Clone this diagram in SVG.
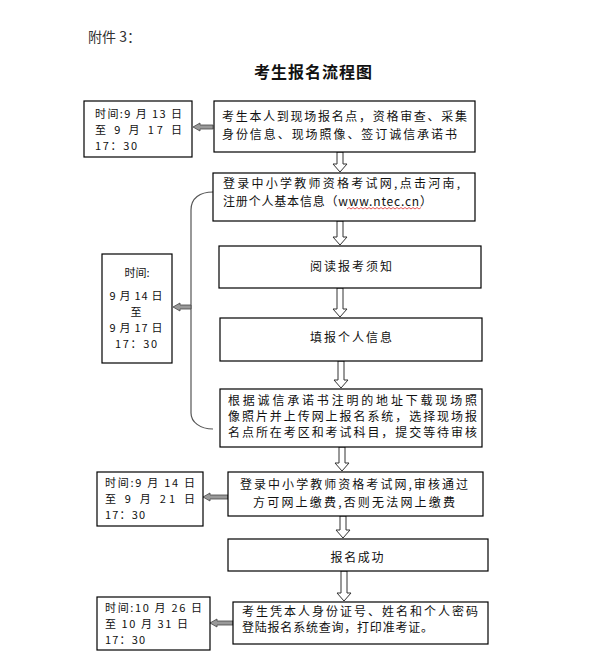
<svg xmlns="http://www.w3.org/2000/svg" width="594" height="662" viewBox="0 0 594 662">
<style>
text{font-family:"Noto Sans CJK SC","Noto Sans",sans-serif;font-size:12px;fill:#111}
.t{font-size:11px}
.box{fill:#fff;stroke:#000;stroke-width:1.2}
.down{fill:#fff;stroke:#333;stroke-width:1}
.left{fill:#999;stroke:#444;stroke-width:0.8}
.c{text-anchor:middle}
</style>
<rect width="594" height="662" fill="#fff"/>
<text x="88" y="42" style="font-size:14px;fill:#333">附件 3：</text>
<text x="313" y="78" class="c" style="font-size:16px;font-weight:bold" textLength="118" lengthAdjust="spacing">考生报名流程图</text>

<g id="connectors">
<path d="M213,192 C200,192 191,198 191,210 L191,413 C191,422 200,429 213,429" fill="none" stroke="#555" stroke-width="1.2"/>
<polygon class="down" points="337,152 343,152 343,164 347,164 340,172 333,164 337,164"/>
<polygon class="down" points="337,221 343,221 343,237 347,237 340,245 333,237 337,237"/>
<polygon class="down" points="337,288 343,288 343,309 347,309 340,317 333,309 337,309"/>
<polygon class="down" points="338,361 344,361 344,380 348,380 341,388 334,380 338,380"/>
<polygon class="down" points="339,447 345,447 345,463 349,463 342,471 335,463 339,463"/>
<polygon class="down" points="340,516 346,516 346,530 350,530 343,538 336,530 340,530"/>
<polygon class="down" points="341,571 347,571 347,593 351,593 344,601 337,593 341,593"/>
<polygon class="left" points="213,125 200,125 200,123 193,127 200,131 200,129 213,129"/>
<polygon class="left" points="191,305 180,305 180,303 173,307 180,311 180,309 191,309"/>
<polygon class="left" points="228,495 210,495 210,493 203,497 210,501 210,499 228,499"/>
<polygon class="left" points="233,621 217,621 217,619 210,623 217,627 217,625 233,625"/>
</g>

<g id="node-a">
<rect class="box" x="214" y="101" width="261" height="51"/>
<text x="222" y="121" textLength="245" lengthAdjust="spacing">考生本人到现场报名点，资格审查、采集</text>
<text x="222" y="139" textLength="235" lengthAdjust="spacing">身份信息、现场照像、签订诚信承诺书</text>
</g>
<g id="time-1">
<rect class="box" x="84" y="101" width="108" height="56"/>
<text class="t" x="95" y="118" textLength="87" lengthAdjust="spacing">时间:9 月 13 日</text>
<text class="t" x="95" y="134" textLength="87" lengthAdjust="spacing">至 9 月 17 日</text>
<text class="t" x="95" y="150" textLength="42" lengthAdjust="spacing">17：30</text>
</g>
<g id="node-b">
<rect class="box" x="213" y="173" width="262" height="48"/>
<text x="223" y="188" textLength="237" lengthAdjust="spacing">登录中小学教师资格考试网,点击河南,</text>
<text x="223" y="206" textLength="209" lengthAdjust="spacing">注册个人基本信息（www.ntec.cn）</text>
<path d="M347,209 l2,-1.5 l2,1.5 l2,-1.5 l2,1.5 l2,-1.5 l2,1.5 l2,-1.5 l2,1.5 l2,-1.5 l2,1.5 l2,-1.5 l2,1.5 l2,-1.5 l2,1.5 l2,-1.5 l2,1.5 l2,-1.5 l2,1.5 l2,-1.5 l2,1.5 l2,-1.5 l2,1.5 l2,-1.5 l2,1.5 l2,-1.5 l2,1.5 l2,-1.5 l2,1.5 l2,-1.5 l2,1.5 l2,-1.5 l2,1.5 l2,-1.5 l2,1.5 l2,-1.5 l2,1.5 l2,-1.5" fill="none" stroke="#e03030" stroke-width="0.8"/>
</g>
<g id="node-c">
<rect class="box" x="219" y="246" width="262" height="42"/>
<text x="351" y="271" class="c" textLength="82" lengthAdjust="spacing">阅读报考须知</text>
</g>
<g id="node-d">
<rect class="box" x="220" y="318" width="262" height="43"/>
<text x="351" y="342" class="c" textLength="82" lengthAdjust="spacing">填报个人信息</text>
</g>
<g id="node-e">
<rect class="box" x="220" y="389" width="262" height="58"/>
<text x="228" y="405" textLength="249" lengthAdjust="spacing">根据诚信承诺书注明的地址下载现场照</text>
<text x="228" y="421" textLength="249" lengthAdjust="spacing">像照片并上传网上报名系统，选择现场报</text>
<text x="228" y="437" textLength="249" lengthAdjust="spacing">名点所在考区和考试科目，提交等待审核</text>
</g>
<g id="time-2">
<rect class="box" x="102" y="254" width="70" height="109"/>
<text class="t c" x="137" y="277">时间:</text>
<text class="t c" x="136" y="300" textLength="53" lengthAdjust="spacing">9 月 14 日</text>
<text class="t c" x="136" y="316">至</text>
<text class="t c" x="136" y="332" textLength="53" lengthAdjust="spacing">9 月 17 日</text>
<text class="t c" x="136" y="348" textLength="42" lengthAdjust="spacing">17：30</text>
</g>
<g id="node-f">
<rect class="box" x="228" y="472" width="255" height="44"/>
<text x="240" y="489" textLength="228" lengthAdjust="spacing">登录中小学教师资格考试网,审核通过</text>
<text x="253" y="507" textLength="202" lengthAdjust="spacing">方可网上缴费,否则无法网上缴费</text>
</g>
<g id="time-3">
<rect class="box" x="97" y="472" width="106" height="54"/>
<text class="t" x="105" y="487" textLength="90" lengthAdjust="spacing">时间:9 月 14 日</text>
<text class="t" x="105" y="503" textLength="90" lengthAdjust="spacing">至 9 月 21 日</text>
<text class="t" x="105" y="519" textLength="40" lengthAdjust="spacing">17：30</text>
</g>
<g id="node-g">
<rect class="box" x="228" y="539" width="260" height="32"/>
<text x="357" y="562" class="c" textLength="53" lengthAdjust="spacing">报名成功</text>
</g>
<g id="node-h">
<rect class="box" x="233" y="602" width="255" height="42"/>
<text x="242" y="616" textLength="236" lengthAdjust="spacing">考生凭本人身份证号、姓名和个人密码</text>
<text x="242" y="632" textLength="191" lengthAdjust="spacing">登陆报名系统查询，打印准考证。</text>
</g>
<g id="time-4">
<rect class="box" x="97" y="597" width="113" height="53"/>
<text class="t" x="105" y="612" textLength="97" lengthAdjust="spacing">时间:10 月 26 日</text>
<text class="t" x="105" y="628" textLength="83" lengthAdjust="spacing">至 10 月 31 日</text>
<text class="t" x="105" y="644" textLength="40" lengthAdjust="spacing">17：30</text>
</g>
</svg>
